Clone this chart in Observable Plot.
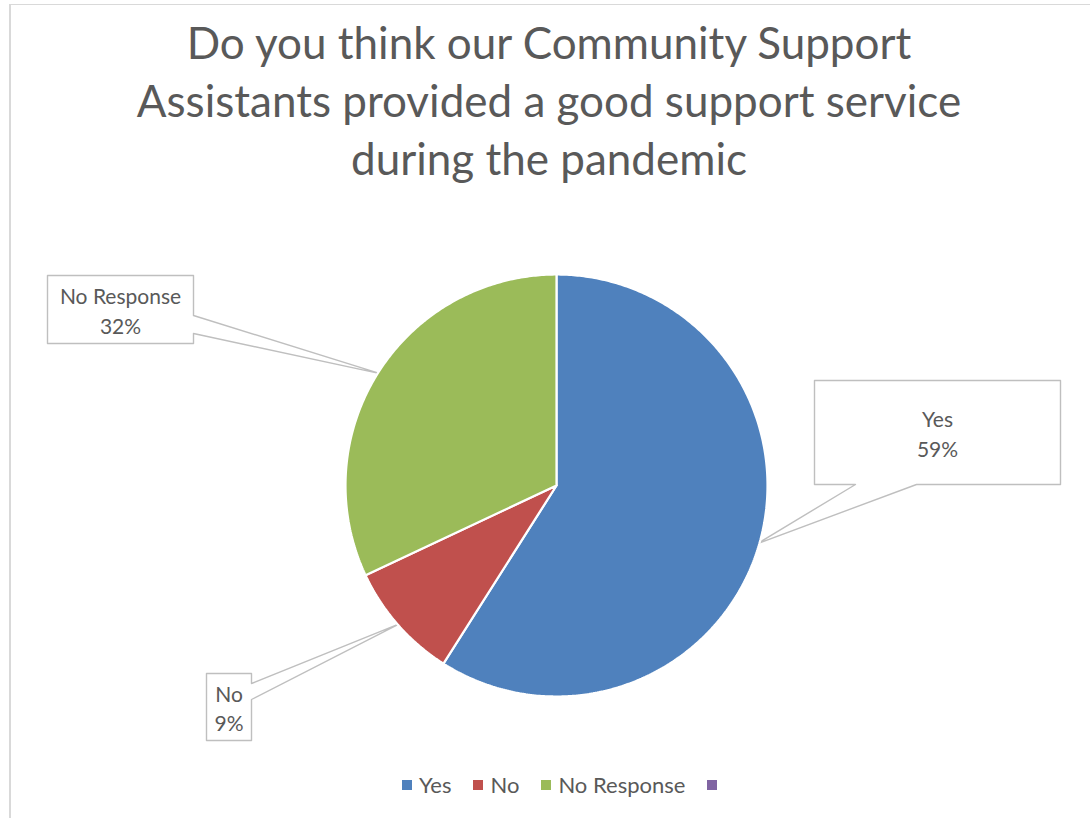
<!DOCTYPE html>
<html>
<head>
<meta charset="utf-8">
<script src="https://cdn.jsdelivr.net/npm/d3@7"></script>
<script src="https://cdn.jsdelivr.net/npm/@observablehq/plot@0.6"></script>
<style>
  html, body { margin: 0; padding: 0; background: #fff; }
  #wrap { position: relative; width: 1090px; height: 818px; overflow: hidden; font-family: Lato, "Open Sans", sans-serif; }
  #frame { position: absolute; left: 9px; top: 4px; width: 1200px; height: 900px; border-left: 2px solid #d9d9d9; border-top: 1.5px solid #d9d9d9; }
  #title { position: absolute; left: 0px; top: 13px; width: 1098px; text-align: center; font-size: 44px; line-height: 58px; color: #595959; }
  #chart { position: absolute; left: 0; top: 200px; }
  #legend { position: absolute; left: 402px; top: 771px; display: flex; align-items: center; font-size: 22px; color: #595959; white-space: nowrap; }
  .item { display: flex; align-items: center; margin-right: 22px; }
  .sw { width: 10px; height: 10px; margin-right: 7px; }
</style>
</head>
<body>
<div id="wrap">
  <div id="frame"></div>
  <div id="title"></div>
  <div id="chart"></div>
  <div id="legend"></div>
</div>
<script>
// ---- data ----
const titleLines = ["Do you think our Community Support", "Assistants provided a good support service", "during the pandemic"];
const categories = ["Yes", "No", "No Response"];
const values = [59, 9, 32];
const legendItems = ["Yes", "No", "No Response", ""];
const colors = ["#4F81BD", "#C0504D", "#9BBB59", "#8064A2"];

// ---- layout (pixels of the page) ----
const CX = 556, CY = 485, R = 211;       // pie centre and radius
const SVG_TOP = 200, H = 560, W = 1090;
// callout boxes: rectangle and wedge attachment points
const callouts = {
  "Yes":         {x0: 814, x1: 1060, y0: 380, y1: 484, side: "bottom", a: 916, b: 855},
  "No":          {x0: 206, x1: 251,  y0: 673, y1: 740, side: "right",  a: 683, b: 699},
  "No Response": {x0: 47,  x1: 193,  y0: 275, y1: 343, side: "right",  a: 315, b: 333}
};

document.getElementById("title").innerHTML = titleLines.join("<br>");

// convert page px to data units (centre-relative, y up)
const toX = X => X - CX;
const toY = Y => CY - Y;

const arcs = d3.pie().sort(null).value(d => d.value)(categories.map((name, i) => ({name, value: values[i]})));

// slice polygons
const slicePts = [];
arcs.forEach(a => {
  const n = Math.max(8, Math.ceil((a.endAngle - a.startAngle) / 0.01));
  slicePts.push({name: a.data.name, x: 0, y: 0});
  for (let k = 0; k <= n; k++) {
    const t = a.startAngle + (a.endAngle - a.startAngle) * k / n;
    slicePts.push({name: a.data.name, x: R * Math.sin(t), y: R * Math.cos(t)});
  }
  slicePts.push({name: a.data.name, x: 0, y: 0});
});

// callout polygons
const calloutPts = [];
const labels = [];
arcs.forEach(a => {
  const name = a.data.name;
  const c = callouts[name];
  const mid = (a.startAngle + a.endAngle) / 2;
  const tip = {x: R * 0.99 * Math.sin(mid), y: R * 0.99 * Math.cos(mid)};
  let pts;
  if (c.side === "bottom") {
    pts = [[c.x0, c.y0], [c.x1, c.y0], [c.x1, c.y1], [c.a, c.y1], null, [c.b, c.y1], [c.x0, c.y1], [c.x0, c.y0]];
  } else {
    pts = [[c.x0, c.y0], [c.x1, c.y0], [c.x1, c.a], null, [c.x1, c.b], [c.x1, c.y1], [c.x0, c.y1], [c.x0, c.y0]];
  }
  pts.forEach(p => {
    if (p === null) calloutPts.push({name, x: tip.x, y: tip.y});
    else calloutPts.push({name, x: toX(p[0]), y: toY(p[1])});
  });
  labels.push({name, x: toX((c.x0 + c.x1) / 2), y: toY((c.y0 + c.y1) / 2), text: `${name}\n${a.data.value}%`});
});

const plot = Plot.plot({
  width: W,
  height: H,
  margin: 0,
  x: {domain: [toX(0), toX(W)], axis: null},
  y: {domain: [toY(SVG_TOP + H), toY(SVG_TOP)], axis: null},
  color: {domain: categories, range: colors.slice(0, 3)},
  style: {background: "transparent", fontFamily: "Lato, 'Open Sans', sans-serif"},
  marks: [
    Plot.line(calloutPts, {x: "x", y: "y", z: "name", fill: "white", stroke: "#bfbfbf", strokeWidth: 1.4, curve: "linear"}),
    Plot.line(slicePts, {x: "x", y: "y", z: "name", fill: "name", stroke: "white", strokeWidth: 2.2, strokeLinejoin: "miter", curve: "linear"}),
    Plot.text(labels, {x: "x", y: "y", text: "text", fontSize: 21, lineHeight: 1.4, fill: "#595959", textAnchor: "middle"})
  ]
});
document.getElementById("chart").appendChild(plot);

// legend
const leg = document.getElementById("legend");
legendItems.forEach((name, i) => {
  const it = document.createElement("div");
  it.className = "item";
  const sw = document.createElement("div");
  sw.className = "sw";
  sw.style.background = colors[i];
  it.appendChild(sw);
  if (name) {
    const t = document.createElement("span");
    t.textContent = name;
    it.appendChild(t);
  }
  leg.appendChild(it);
});
</script>
</body>
</html>
